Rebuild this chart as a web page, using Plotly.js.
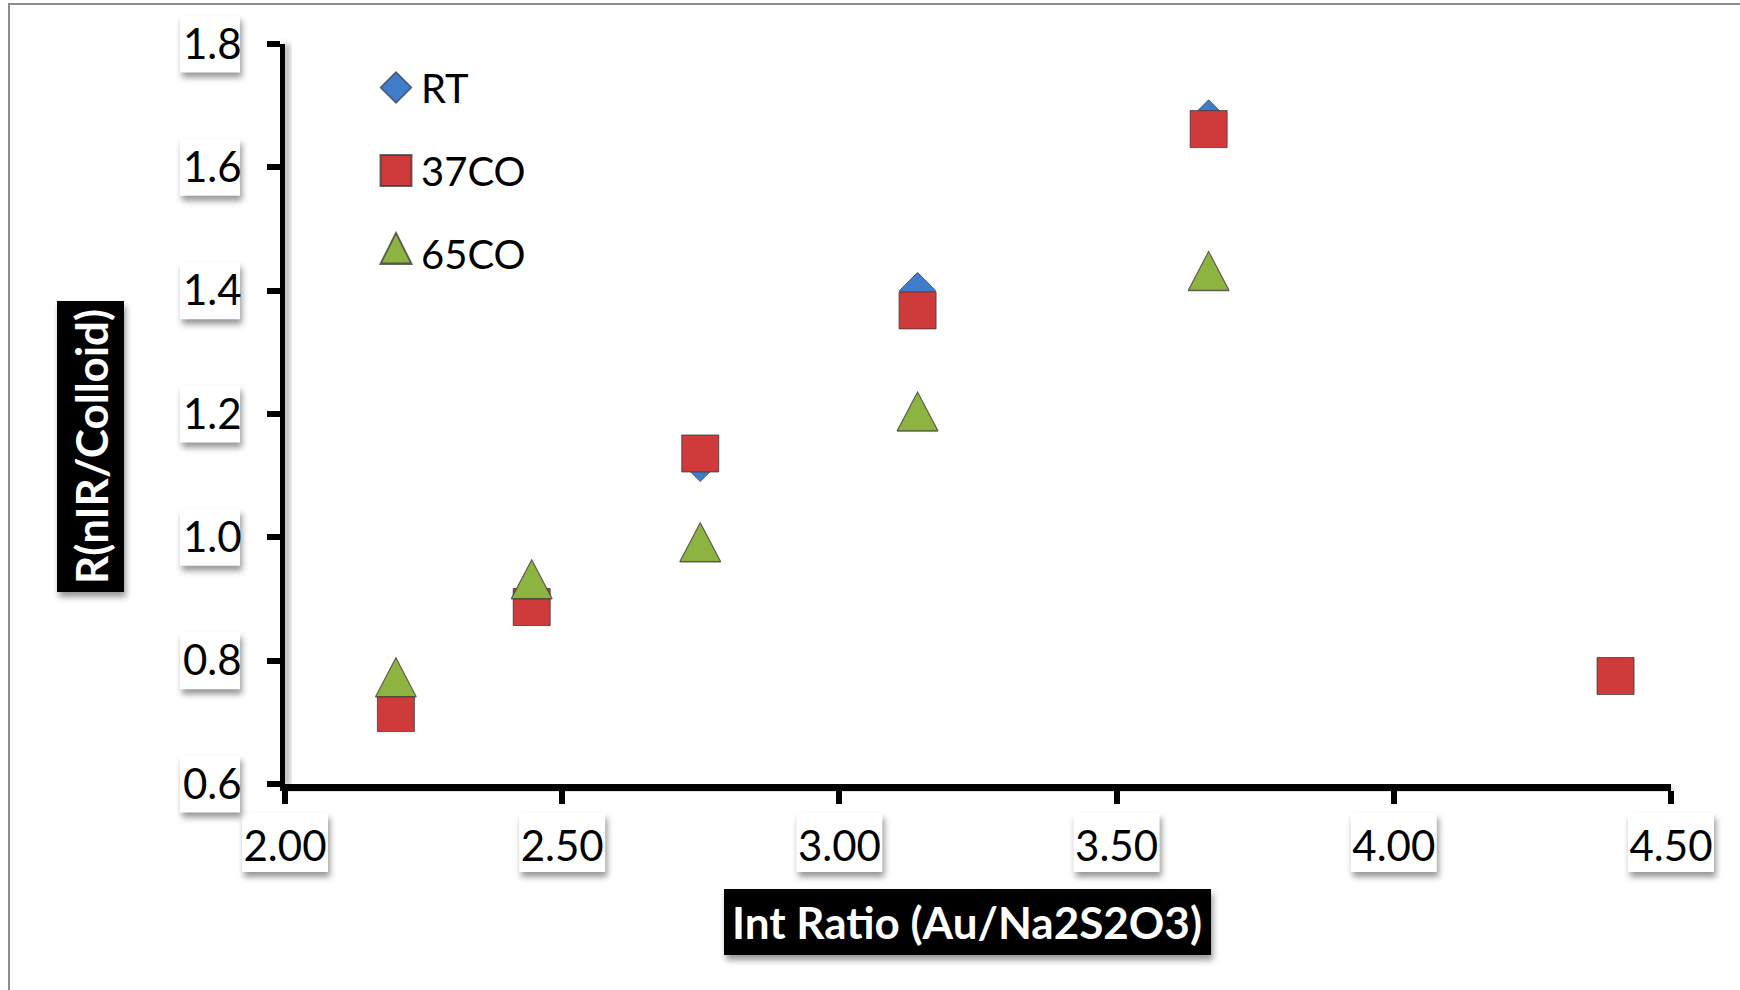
<!DOCTYPE html>
<html><head><meta charset="utf-8">
<script src="https://cdn.plot.ly/plotly-3.0.1.min.js"></script>
<style>
html,body{margin:0;padding:0;background:#fff;overflow:hidden;}
#frame{position:absolute;left:8px;top:3px;width:1740px;height:990px;border-left:2px solid #8c8c8c;border-top:2px solid #8c8c8c;}
#chart{position:absolute;left:0;top:0;width:1740px;height:990px;}
</style></head><body>
<div id="frame"></div>
<div id="chart"></div>
<script>
// ---- data ----
const seriesNames = ["RT", "37CO", "65CO"];
const rtX   = [2.20, 2.445, 2.749, 3.141, 3.666];
const rtY   = [0.72, 0.89, 1.12, 1.40, 1.68];
const co37X = [2.20, 2.445, 2.749, 3.141, 3.666, 4.40];
const co37Y = [0.715, 0.887, 1.136, 1.368, 1.662, 0.775];
const co65X = [2.20, 2.445, 2.749, 3.141, 3.666];
const co65Y = [0.773, 0.932, 0.992, 1.204, 1.432];
const xTickVals = [2.0, 2.5, 3.0, 3.5, 4.0, 4.5];
const xTickText = ["2.00", "2.50", "3.00", "3.50", "4.00", "4.50"];
const yTickVals = [0.6, 0.8, 1.0, 1.2, 1.4, 1.6, 1.8];
const yTickText = ["0.6", "0.8", "1.0", "1.2", "1.4", "1.6", "1.8"];
const xTitle = "Int Ratio (Au/Na2S2O3)";
const yTitle = "R(nIR/Colloid)";
const xRange = [2.0, 4.5];
const yRange = [0.6, 1.8];

// ---- layout helpers (pixel -> paper) ----
const L = 285, T = 44, W = 1386, H = 740;
const px = v => (v - L) / W;
const py = v => (T + H - v) / H;
const xv = v => (v - xRange[0]) / (xRange[1] - xRange[0]);   // tick value -> paper
const yv = v => (v - yRange[0]) / (yRange[1] - yRange[0]);
const FONT = "Lato, 'Open Sans', sans-serif";
const SHADOW = 'rgba(0,0,0,0.41)';

const shapes = [];
// box given in paper coords (x0,x1,y0,y1) with blurred drop shadow offset in px
function box(x0, x1, y0, y1, fill) {
  const dx = 2 / W, dy = 5 / H;
  shapes.push({type: 'rect', xref: 'paper', yref: 'paper', layer: 'below',
    x0: x0 + dx, x1: x1 + dx, y0: y0 - dy, y1: y1 - dy, line: {width: 0}, fillcolor: SHADOW});
  shapes.push({type: 'rect', xref: 'paper', yref: 'paper', layer: 'below',
    x0: x0, x1: x1, y0: y0, y1: y1, line: {width: 0}, fillcolor: fill});
}
// x tick label boxes
xTickVals.forEach(v => box(xv(v) - 43 / W, xv(v) + 43 / W, py(872), py(813), '#ffffff'));
// y tick label boxes
yTickVals.forEach(v => box(px(180), px(240), yv(v) - 28.5 / H, yv(v) + 28.5 / H, '#ffffff'));
// axis title boxes
box(px(724), px(1211), py(955), py(889), '#000000');
box(px(57), px(124), py(592), py(301), '#000000');
// axis line shadows
shapes.push({type: 'rect', xref: 'paper', yref: 'paper', layer: 'below',
  x0: px(283), x1: px(1672), y0: py(790), y1: py(786), line: {width: 0}, fillcolor: SHADOW});
shapes.push({type: 'rect', xref: 'paper', yref: 'paper', layer: 'below',
  x0: px(284), x1: px(289), y0: py(786), y1: py(44), line: {width: 0}, fillcolor: SHADOW});

const mk = (sym, size, color) => ({symbol: sym, size: size, color: color,
  line: {color: 'rgba(55,55,55,0.75)', width: 1}});

const data = [
  {type: 'scatter', mode: 'markers', name: seriesNames[0], legendgroup: 'g1', x: rtX, y: rtY,
   marker: mk('diamond', 28, '#3f7dcb')},
  {type: 'scatter', mode: 'markers', name: seriesNames[1], legendgroup: 'g2', x: co37X, y: co37Y,
   marker: mk('square', 37, '#cf3a3a')},
  {type: 'scatter', mode: 'markers', name: seriesNames[2], legendgroup: 'g3', x: co65X, y: co65Y,
   marker: mk('triangle-up', 35.5, '#8db440')}
];

const layout = {
  width: 1740, height: 990,
  margin: {l: L, r: 1740 - L - W, t: T, b: 990 - T - H, pad: 0},
  paper_bgcolor: 'rgba(0,0,0,0)', plot_bgcolor: 'rgba(0,0,0,0)',
  font: {family: FONT, color: '#000000'},
  showlegend: true,
  legend: {x: px(371), y: py(55), xanchor: 'left', yanchor: 'top',
    font: {family: FONT, size: 40, color: '#000'}, bgcolor: 'rgba(0,0,0,0)',
    traceorder: 'grouped', tracegroupgap: 28, itemwidth: 40},
  xaxis: {range: xRange, tickmode: 'array', tickvals: xTickVals, ticktext: xTickText,
    showgrid: false, zeroline: false, showline: true, linecolor: '#000', linewidth: 7,
    ticks: 'outside', ticklen: 13, tickwidth: 6, tickcolor: '#000',
    tickfont: {family: FONT, size: 42, color: '#000'}, ticklabelstandoff: 7},
  yaxis: {range: yRange, tickmode: 'array', tickvals: yTickVals, ticktext: yTickText,
    showgrid: false, zeroline: false, showline: true, linecolor: '#000', linewidth: 5,
    ticks: 'outside', ticklen: 13, tickwidth: 6, tickcolor: '#000',
    tickfont: {family: FONT, size: 42, color: '#000'}, ticklabelstandoff: 17},
  annotations: [
    {text: xTitle, xref: 'paper', yref: 'paper', x: px(967), y: py(922), xanchor: 'center', yanchor: 'middle',
     showarrow: false, font: {family: FONT, size: 44, color: '#ffffff', weight: 'bold'}},
    {text: yTitle, xref: 'paper', yref: 'paper', x: px(91), y: py(447), xanchor: 'center', yanchor: 'middle',
     textangle: -90, showarrow: false, font: {family: FONT, size: 44, color: '#ffffff', weight: 'bold'}}
  ],
  shapes: shapes
};

Plotly.newPlot('chart', data, layout, {staticPlot: true, displayModeBar: false}).then(gd => {
  const ns = 'http://www.w3.org/2000/svg';
  const svg = gd.querySelector('svg.main-svg');
  let defs = svg.querySelector('defs');
  if (!defs) { defs = document.createElementNS(ns, 'defs'); svg.insertBefore(defs, svg.firstChild); }
  const f = document.createElementNS(ns, 'filter');
  f.setAttribute('id', 'sblur');
  f.setAttribute('x', '-50%'); f.setAttribute('y', '-50%');
  f.setAttribute('width', '200%'); f.setAttribute('height', '200%');
  const gb = document.createElementNS(ns, 'feGaussianBlur');
  gb.setAttribute('stdDeviation', '3');
  f.appendChild(gb); defs.appendChild(f);
  gd.querySelectorAll('.shapelayer path').forEach(p => {
    const fo = parseFloat(p.style.fillOpacity);
    if (Math.abs(fo - 0.41) < 0.005) p.setAttribute('filter', 'url(#sblur)');
  });
  // reshape triangles to Excel-like proportions (width ~41, height ~39)
  gd.querySelectorAll('.scatterlayer .trace').forEach((tr, i) => {
    if (i !== 2) return;
    tr.querySelectorAll('path.point').forEach(p => {
      const t = p.getAttribute('transform') || '';
      p.setAttribute('transform', t + ' translate(0,6.5) scale(1,1.466)');
    });
  });
  // legend symbols at reference size
  gd.querySelectorAll('.legend .legendpoints path.scatterpts').forEach(p => {
    const bb = p.getBBox();
    const t = p.getAttribute('transform') || '';
    p.setAttribute('transform', t + ' scale(' + (31 / bb.width).toFixed(3) + ',' + (31 / bb.height).toFixed(3) + ')');
  });
});
</script>
</body></html>
